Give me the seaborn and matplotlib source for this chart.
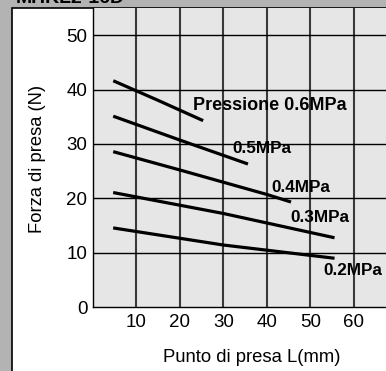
import matplotlib
matplotlib.use("Agg")
import matplotlib.pyplot as plt
import pandas as pd
import seaborn as sns
from matplotlib.patches import Rectangle

# pressure curves: grip force vs grip point L
pressures = ["0.6MPa", "0.5MPa", "0.4MPa", "0.3MPa", "0.2MPa"]
x_06 = [5, 15, 25]
y_06 = [41.5, 38.0, 34.4]
x_05 = [5, 20, 35.3]
y_05 = [35.0, 30.7, 26.4]
x_04 = [5, 20, 40, 45.2]
y_04 = [28.5, 25.2, 20.7, 19.4]
x_03 = [5, 30, 55.2]
y_03 = [21.0, 17.2, 12.8]
x_02 = [5, 30, 55.2]
y_02 = [14.5, 11.4, 9.0]

label_texts = ["Pressione 0.6MPa", "0.5MPa", "0.4MPa", "0.3MPa", "0.2MPa"]
label_x = [23.0, 32.0, 41.0, 45.5, 53.1]
label_y = [37.1, 29.2, 21.9, 16.4, 6.8]
label_size = [13.0, 12.3, 12.3, 12.3, 12.3]

x_ticks = [10, 20, 30, 40, 50, 60]
y_ticks = [0, 10, 20, 30, 40, 50]

frames = []
for p, xs, ys in zip(pressures, [x_06, x_05, x_04, x_03, x_02], [y_06, y_05, y_04, y_03, y_02]):
    frames.append(pd.DataFrame({"L": xs, "F": ys, "p": p}))
df = pd.concat(frames, ignore_index=True)

plt.rcParams["font.family"] = ["Liberation Sans", "DejaVu Sans"]

fig = plt.figure(figsize=(3.86, 3.71), dpi=100)
fig.patch.set_facecolor("#b3b3b3")

# white panel with black border, behind the axes
panel = Rectangle((12 / 386, -0.05), 1.1, 1 - 8 / 371 + 0.05, transform=fig.transFigure,
                  facecolor="white", edgecolor="black", linewidth=1.2, zorder=-5)
fig.patches.append(panel)

# title, cut off at the top edge as in the original
fig.text(12 / 386 + 0.01, 1 - 3 / 371, "MHKL2-16D", fontsize=14, fontweight="bold",
         ha="left", va="baseline")

ax = fig.add_axes([93 / 386, 1 - 307 / 371, 1 - 93 / 386, (307 - 8) / 371])
ax.set_zorder(1)
ax.set_facecolor("#e6e6e6")

sns.lineplot(data=df, x="L", y="F", units="p", estimator=None, color="black",
             linewidth=2.3, ax=ax, zorder=3, legend=False)

ax.set_xlim(0, 67.4)
ax.set_ylim(0, 55)
ax.set_xticks(x_ticks)
ax.set_yticks(y_ticks)
ax.tick_params(length=0, labelsize=13.5, colors="black")
ax.tick_params(axis="x", pad=5)
ax.tick_params(axis="y", pad=4)

for xv in x_ticks:
    ax.axvline(xv, color="#3a3a3a", linewidth=1.5, zorder=1)
for yv in y_ticks[1:]:
    ax.axhline(yv, color="black", linewidth=1.0, zorder=1)

for s in ["top", "right"]:
    ax.spines[s].set_visible(False)
for s in ["left", "bottom"]:
    ax.spines[s].set_color("black")
    ax.spines[s].set_linewidth(1.0)

for t, lx, ly, fs in zip(label_texts, label_x, label_y, label_size):
    ax.text(lx, ly, t, fontsize=fs, fontweight="bold", ha="left", va="center", zorder=4)

ax.set_xlabel("")
ax.set_ylabel("")
fig.text(252 / 386, 1 - 357 / 371, "Punto di presa L(mm)", fontsize=13.3,
         ha="center", va="center")
fig.text(38 / 386, 1 - 159 / 371, "Forza di presa (N)", fontsize=13.2,
         ha="center", va="center", rotation=90)

fig.savefig("out.png", dpi=100, facecolor=fig.get_facecolor())
